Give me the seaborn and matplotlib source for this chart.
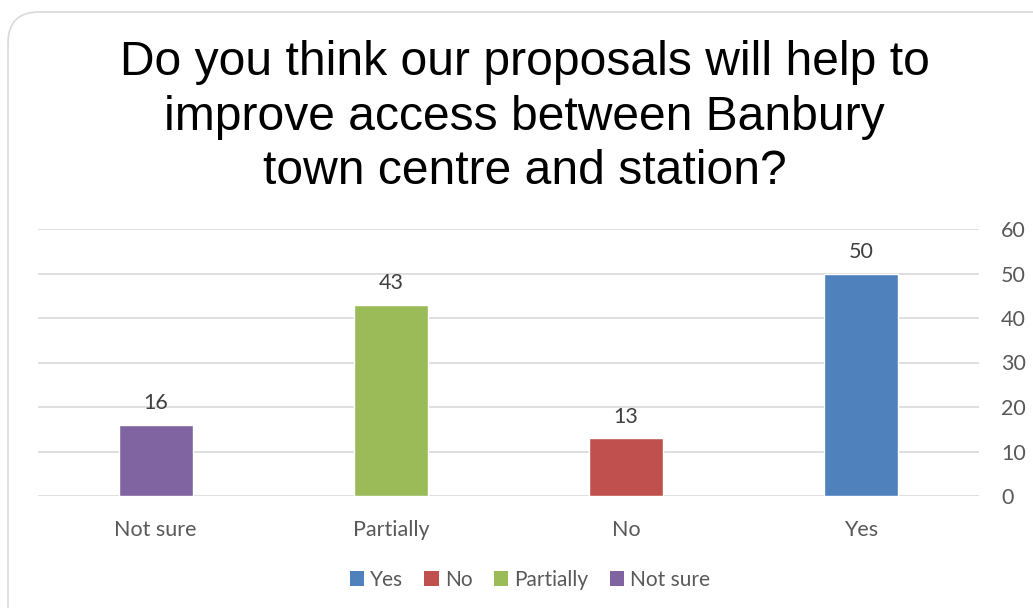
import matplotlib
matplotlib.use("Agg")
import matplotlib.pyplot as plt
import seaborn as sns
import pandas as pd
from matplotlib.patches import FancyBboxPatch, Patch

categories = ["Not sure", "Partially", "No", "Yes"]
values = [16, 43, 13, 50]
legend_order = ["Yes", "No", "Partially", "Not sure"]
colors = {"Yes": "#4F81BD", "No": "#C0504D", "Partially": "#9BBB59", "Not sure": "#8064A2"}
yticks = [0, 10, 20, 30, 40, 50, 60]
title = "Do you think our proposals will help to\nimprove access between Banbury\ntown centre and station?"

sns.set_theme(style="white")
plt.rcParams["font.family"] = ["Lato", "DejaVu Sans"]

fig = plt.figure(figsize=(10.33, 6.08), dpi=100)
fig.patch.set_facecolor("white")

# rounded border
border = FancyBboxPatch((8 / 1033, -0.05), 1.1, 1 - 12 / 608 + 0.05,
                        boxstyle="round,pad=0,rounding_size=0.03",
                        transform=fig.transFigure, facecolor="white",
                        edgecolor="#D9D9D9", linewidth=1.2, zorder=-5,
                        mutation_aspect=1033 / 608)
fig.patches.append(border)

ax = fig.add_axes([38 / 1033, 1 - 496 / 608, (979 - 38) / 1033, (496 - 229) / 608])
ax.set_zorder(2)
ax.set_facecolor("none")

df = pd.DataFrame({"cat": categories, "val": values})
sns.barplot(data=df, x="cat", y="val", hue="cat", palette=colors, order=categories,
            hue_order=categories, width=0.314, legend=False, ax=ax, saturation=1, zorder=3)

ax.set_xlim(-0.5, 3.5)
ax.set_ylim(0, 60)
ax.set_yticks(yticks)
ax.yaxis.tick_right()
ax.grid(axis="y", color="#D9D9D9", linewidth=1.2, zorder=0)
ax.set_axisbelow(True)
for s in ax.spines.values():
    s.set_visible(False)
ax.set_xlabel("")
ax.set_ylabel("")
ax.tick_params(axis="both", length=0, labelsize=15.5, labelcolor="#595959")
ax.tick_params(axis="y", pad=16)
ax.tick_params(axis="x", pad=17)

for i, v in enumerate(values):
    ax.text(i, v + 2.6, str(v), ha="center", va="bottom", fontsize=15.5, color="#404040")

fig.text(0.508, 1 - 117 / 608, title, ha="center", va="center", fontsize=34.6,
         family=["Liberation Sans", "DejaVu Sans"], color="black", linespacing=1.28)

handles = [Patch(facecolor=colors[c], edgecolor="none", label=c) for c in legend_order]
fig.legend(handles=handles, loc="center", bbox_to_anchor=(530 / 1033, 1 - 580 / 608),
           ncol=4, frameon=False, fontsize=15, handlelength=0.7, handleheight=0.7,
           handletextpad=0.3, columnspacing=1.0, labelcolor="#595959")

fig.savefig("out.png", dpi=100, facecolor="white")
